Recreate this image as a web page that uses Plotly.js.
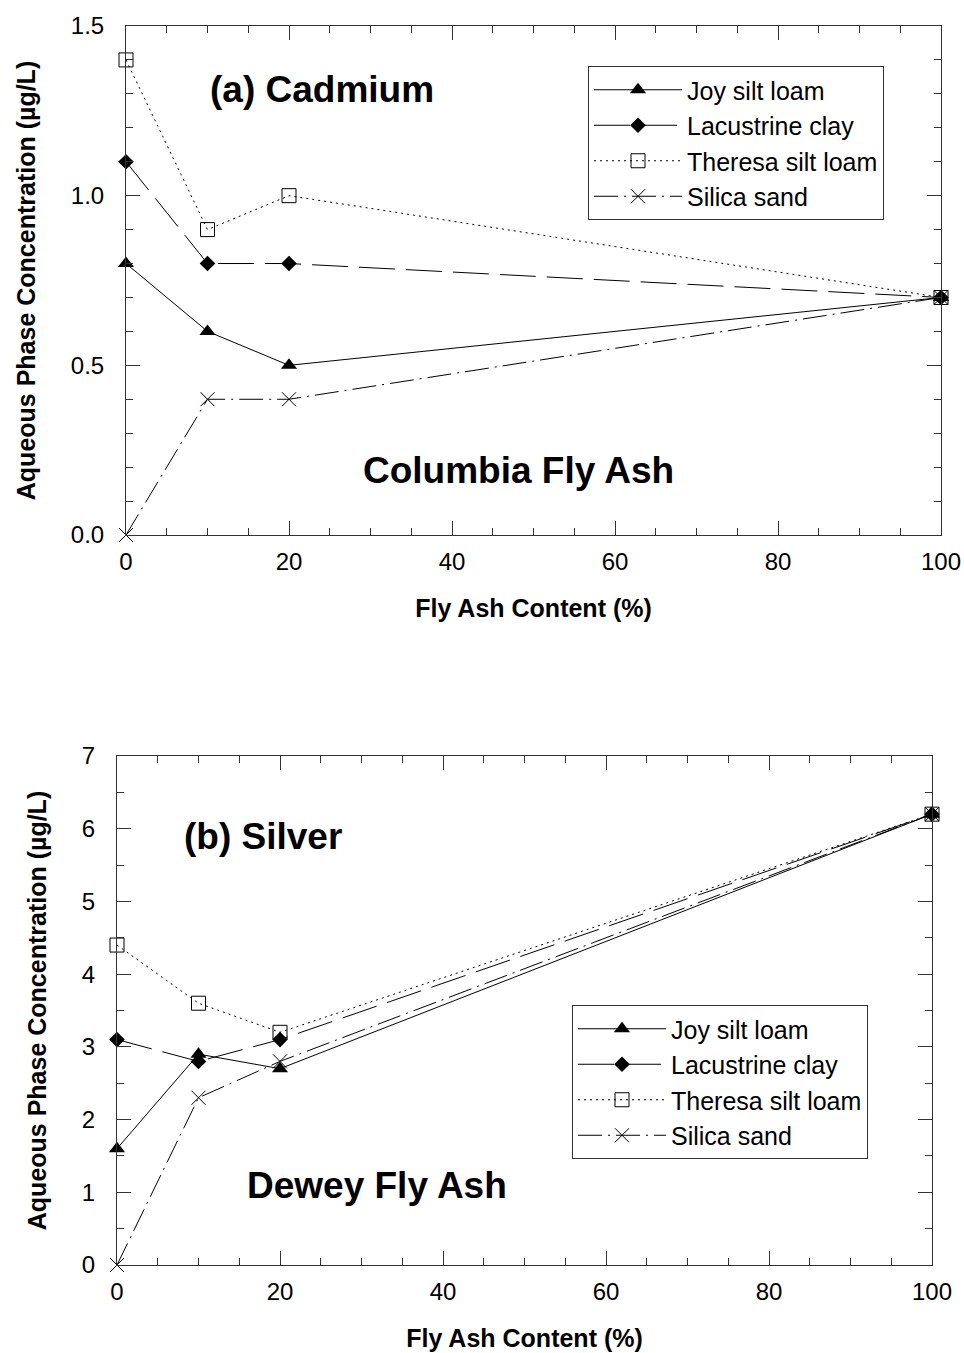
<!DOCTYPE html>
<html><head><meta charset="utf-8">
<script src="https://cdn.plot.ly/plotly-3.0.1.min.js"></script>
<style>html,body{margin:0;padding:0;background:#fff}</style>
</head><body><div id="chart" style="width:964px;height:1353px"></div>
<script>
// ---- data ----
const flyAshContent = [0, 10, 20, 100];
const seriesNames = ['Joy silt loam', 'Lacustrine clay', 'Theresa silt loam', 'Silica sand'];
// (a) Cadmium, Columbia Fly Ash
const cadmiumJoy = [0.8, 0.6, 0.5, 0.7];
const cadmiumLacustrine = [1.1, 0.8, 0.8, 0.7];
const cadmiumTheresa = [1.4, 0.9, 1.0, 0.7];
const cadmiumSilica = [0.0, 0.4, 0.4, 0.7];
// (b) Silver, Dewey Fly Ash
const silverJoy = [1.6, 2.9, 2.7, 6.2];
const silverLacustrine = [3.1, 2.8, 3.1, 6.2];
const silverTheresa = [4.4, 3.6, 3.2, 6.2];
const silverSilica = [0.0, 2.3, 2.8, 6.2];
const topYTicks = [0, 0.5, 1.0, 1.5];
const bottomYTicks = [0, 1, 2, 3, 4, 5, 6, 7];
const xTicks = [0, 20, 40, 60, 80, 100];

// ---- styles ----
const FONT = 'Liberation Sans, Arial, sans-serif';
const styles = [
  {dash: 'solid', symbol: 'triangle-up', size: 14, lw: 0},
  {dash: '36px,11px', symbol: 'diamond', size: 12, lw: 0},
  {dash: '2px,4px', symbol: 'square-open', size: 14, lw: 1},
  {dash: '24px,6px,2px,6px', symbol: 'x-thin-open', size: 14, lw: 1}
];

function makeTraces(seriesList, xa, ya, legendId) {
  return seriesList.map((ys, i) => ({
    type: 'scatter', mode: 'lines+markers',
    x: flyAshContent, y: ys, name: seriesNames[i],
    xaxis: xa, yaxis: ya, legend: legendId,
    cliponaxis: false,
    line: {color: '#000', width: 1, dash: styles[i].dash},
    marker: {symbol: styles[i].symbol, size: styles[i].size, color: '#000',
             line: {color: '#000', width: styles[i].lw}}
  }));
}

const traces = [
  ...makeTraces([cadmiumJoy, cadmiumLacustrine, cadmiumTheresa, cadmiumSilica], 'x', 'y', 'legend'),
  ...makeTraces([silverJoy, silverLacustrine, silverTheresa, silverSilica], 'x2', 'y2', 'legend2')
];

function xAxis(domain, anchor) {
  return {
    domain: domain, anchor: anchor, range: [0, 100],
    tickvals: xTicks, ticks: 'inside', ticklen: 14, tickwidth: 1, tickcolor: '#333',
    minor: {dtick: 5, ticks: 'inside', ticklen: 7, tickwidth: 1, tickcolor: '#333', showgrid: false},
    showline: true, linecolor: '#333', linewidth: 1, mirror: 'ticks',
    showgrid: false, zeroline: false, automargin: false,
    ticklabelstandoff: 5,
    tickfont: {family: FONT, size: 24, color: '#000'},
    title: {text: 'Fly Ash Content (%)', standoff: 25,
            font: {family: FONT, size: 25, color: '#000', weight: 'bold'}}
  };
}
function yAxis(domain, anchor, range, tickvals, minorDtick, fmt) {
  return {
    domain: domain, anchor: anchor, range: range,
    tickvals: tickvals, tickformat: fmt,
    ticks: 'inside', ticklen: 14, tickwidth: 1, tickcolor: '#333',
    minor: {dtick: minorDtick, ticks: 'inside', ticklen: 7, tickwidth: 1, tickcolor: '#333', showgrid: false},
    showline: true, linecolor: '#333', linewidth: 1, mirror: 'ticks',
    showgrid: false, zeroline: false, automargin: false,
    ticklabelstandoff: 16,
    tickfont: {family: FONT, size: 24, color: '#000'},
    title: {text: 'Aqueous Phase Concentration (µg/L)', standoff: 28,
            font: {family: FONT, size: 25, color: '#000', weight: 'bold'}}
  };
}

const W = 964, H = 1353;
const legendStyle = {
  xanchor: 'left', yanchor: 'top',
  bgcolor: '#fff', bordercolor: '#333', borderwidth: 1,
  font: {family: FONT, size: 25, color: '#000'}, itemwidth: 88
};
const layout = {
  width: W, height: H,
  margin: {l: 0, r: 0, t: 0, b: 0},
  paper_bgcolor: '#fff', plot_bgcolor: '#fff',
  font: {family: FONT, color: '#000'},
  showlegend: true,
  xaxis: xAxis([126 / W, 941 / W], 'y'),
  yaxis: yAxis([1 - 535 / H, 1 - 26 / H], 'x', [0, 1.5], topYTicks, 0.1, '.1f'),
  xaxis2: xAxis([117 / W, 932 / W], 'y2'),
  yaxis2: yAxis([1 - 1265 / H, 1 - 756 / H], 'x2', [0, 7], bottomYTicks, 0.5, 'd'),
  legend: Object.assign({x: 588 / W, y: 1 - 66 / H}, legendStyle),
  legend2: Object.assign({x: 572 / W, y: 1 - 1005 / H}, legendStyle),
  annotations: [
    {xref: 'x', yref: 'y', x: 24, y: 1.314, text: '(a) Cadmium', showarrow: false,
     font: {family: FONT, size: 37, color: '#000', weight: 'bold'}},
    {xref: 'x', yref: 'y', x: 48.2, y: 0.19, text: 'Columbia Fly Ash', showarrow: false,
     font: {family: FONT, size: 37, color: '#000', weight: 'bold'}},
    {xref: 'x2', yref: 'y2', x: 17.9, y: 5.89, text: '(b) Silver', showarrow: false,
     font: {family: FONT, size: 37, color: '#000', weight: 'bold'}},
    {xref: 'x2', yref: 'y2', x: 31.9, y: 1.1, text: 'Dewey Fly Ash', showarrow: false,
     font: {family: FONT, size: 37, color: '#000', weight: 'bold'}}
  ]
};

Plotly.newPlot('chart', traces, layout, {displayModeBar: false, staticPlot: true});
</script>
</body></html>
